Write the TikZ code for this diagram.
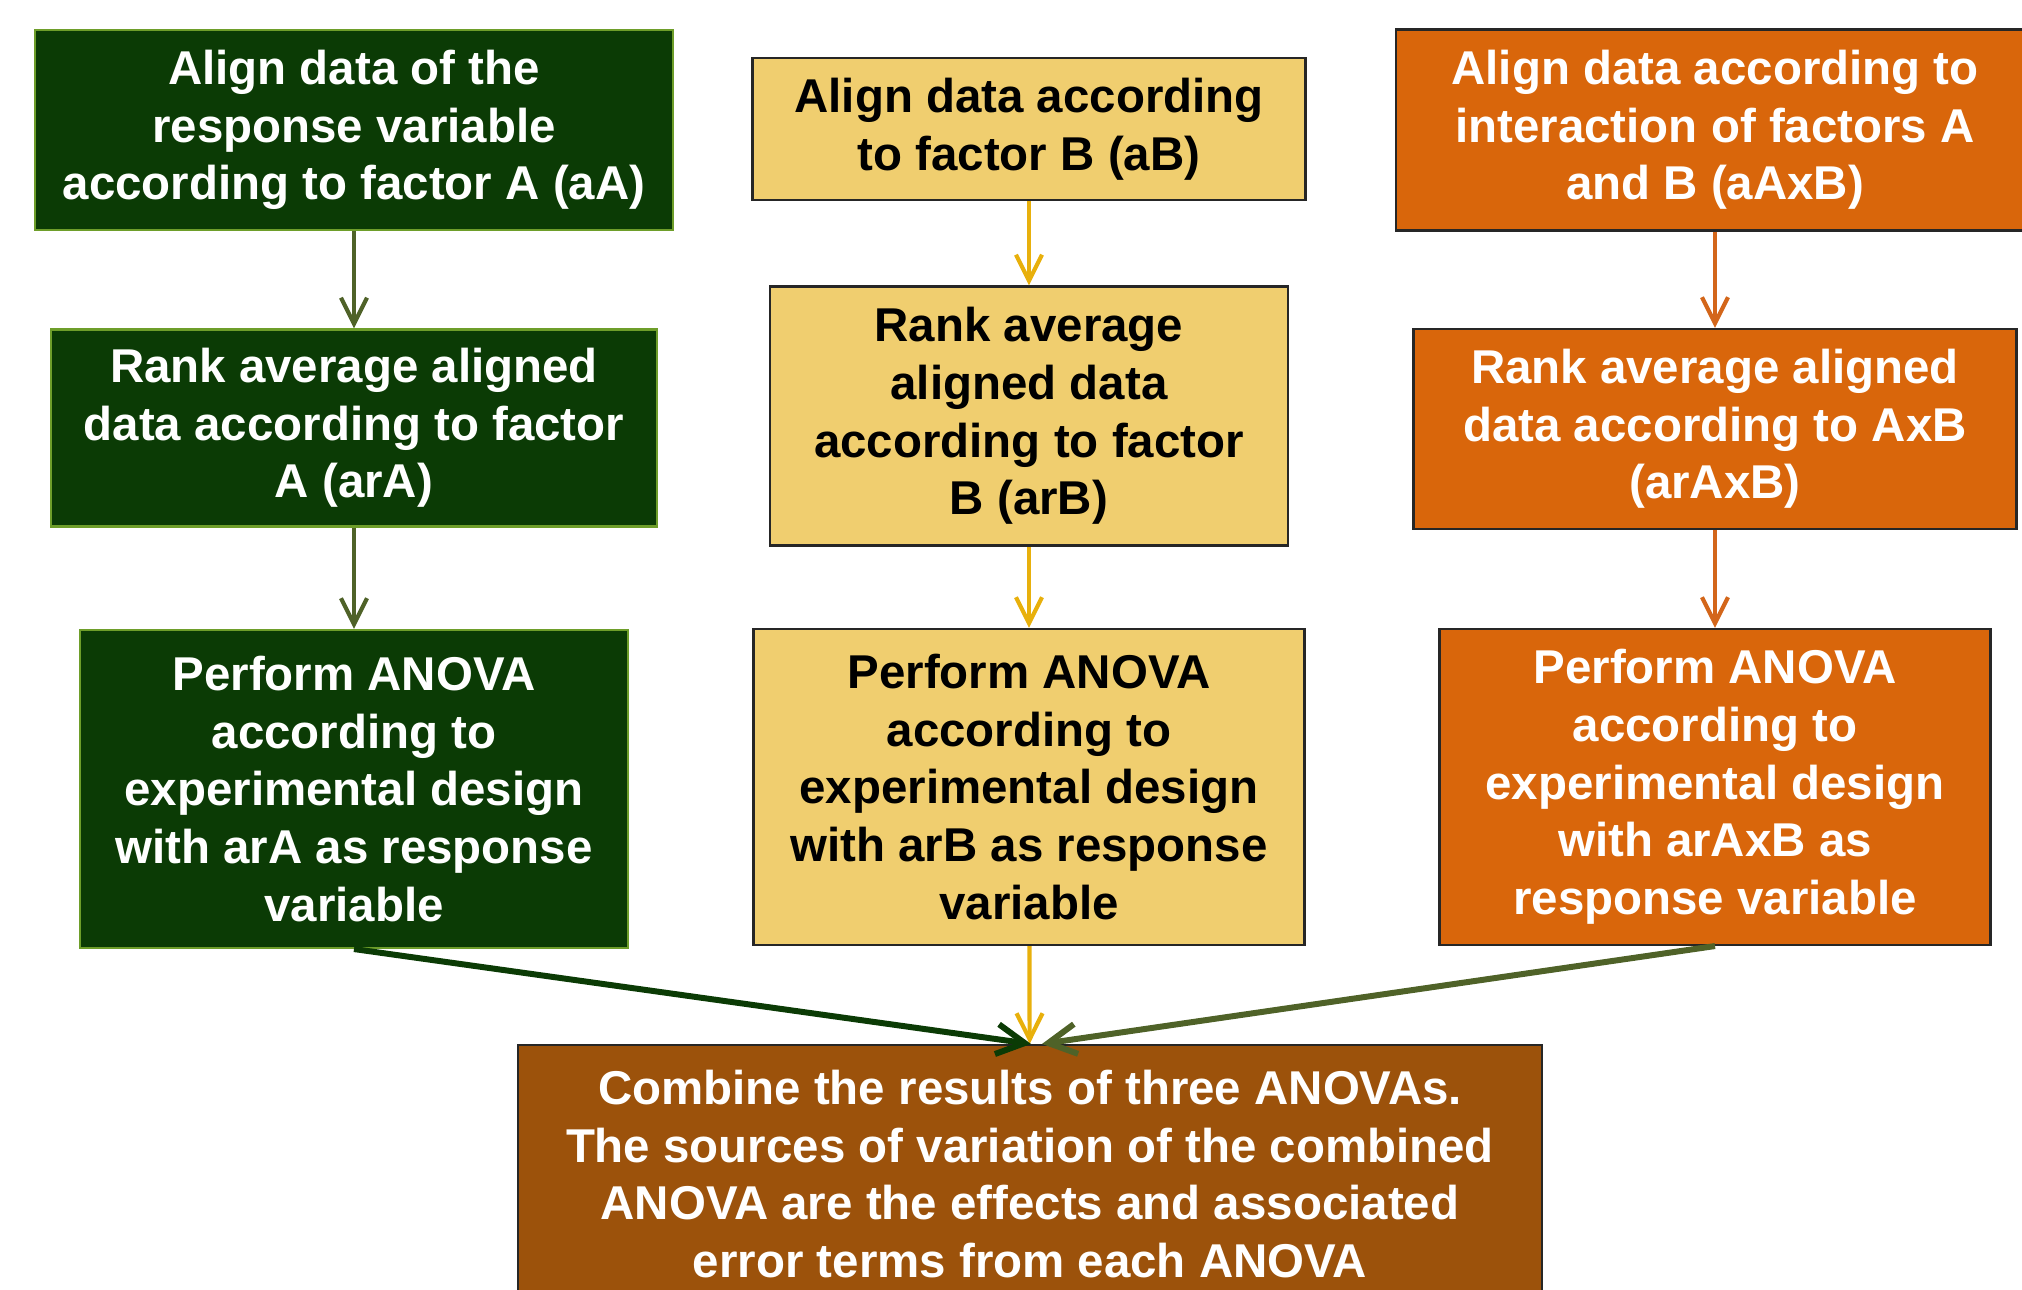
\documentclass[tikz,border=0pt]{standalone}
\usepackage{fontspec}
\setmainfont{Liberation Sans}
\usepackage{tikz}
\usetikzlibrary{arrows.meta}

\definecolor{grnfill}{HTML}{0B3B05}
\definecolor{grnline}{HTML}{6E9E2A}
\definecolor{olive}{HTML}{4F6228}
\definecolor{yelfill}{HTML}{F0CE6F}
\definecolor{yelline}{HTML}{E8B00C}
\definecolor{orafill}{HTML}{D9660B}
\definecolor{oraline}{HTML}{D3661A}
\definecolor{brnfill}{HTML}{9C520B}

\begin{document}
\begin{tikzpicture}[
  >={Straight Barb[length=2.6mm,width=2.6mm]},
  box/.style={rectangle,draw,line width=0.6pt,align=center,inner sep=0pt,
    font=\fontsize{13.5}{16.4}\selectfont\bfseries},
  abox/.style={box,fill=grnfill,draw=grnline,text=white},
  bbox/.style={box,fill=yelfill,draw=black!85,text=black},
  cbox/.style={box,fill=orafill,draw=black!85,text=white},
  dbox/.style={box,fill=brnfill,draw=black!85,text=white},
  flow/.style={->,line width=1.2pt},
  merge/.style={-{Straight Barb[length=2.8mm,width=3.0mm]},line width=1.7pt}
]
\path[use as bounding box,clip] (0,0) rectangle (20.22,-12.90);

% column A
\node[abox,minimum width=6.38cm,minimum height=2.00cm] (aA) at (3.54,-1.30)
  {Align data of the\\response variable\\according to factor A (aA)};
\node[abox,minimum width=6.06cm,minimum height=1.97cm] (arA) at (3.54,-4.28)
  {Rank average aligned\\data according to factor\\A (arA)};
\node[abox,minimum width=5.48cm,minimum height=3.18cm] (anA) at (3.54,-7.89)
  {Perform ANOVA\\according to\\experimental design\\with arA as response\\variable};

% column B
\node[bbox,minimum width=5.53cm,minimum height=1.42cm] (aB) at (10.29,-1.29)
  {Align data according\\to factor B (aB)};
\node[bbox,minimum width=5.18cm,minimum height=2.59cm] (arB) at (10.29,-4.16)
  {Rank average\\aligned data\\according to factor\\B (arB)};
\node[bbox,minimum width=5.51cm,minimum height=3.16cm] (anB) at (10.29,-7.87)
  {Perform ANOVA\\according to\\experimental design\\with arB as response\\variable};

% column AxB
\node[cbox,minimum width=6.38cm,minimum height=2.01cm] (aAxB) at (17.15,-1.30)
  {Align data according to\\interaction of factors A\\and B (aAxB)};
\node[cbox,minimum width=6.03cm,minimum height=2.00cm] (arAxB) at (17.15,-4.29)
  {Rank average aligned\\data according to AxB\\(arAxB)};
\node[cbox,minimum width=5.51cm,minimum height=3.16cm] (anAxB) at (17.15,-7.87)
  {Perform ANOVA\\according to\\experimental design\\with arAxB as\\response variable};

% combined result
\node[dbox,minimum width=10.24cm,minimum height=2.58cm] (comb) at (10.30,-11.74)
  {Combine the results of three ANOVAs.\\The sources of variation of the combined\\ANOVA are the effects and associated\\error terms from each ANOVA};

\draw[flow,olive] (aA) -- (arA);
\draw[flow,olive] (arA) -- (anA);
\draw[flow,yelline] (aB) -- (arB);
\draw[flow,yelline] (arB) -- (anB);
\draw[flow,yelline] (anB) -- (comb);
\draw[flow,oraline] (aAxB) -- (arAxB);
\draw[flow,oraline] (arAxB) -- (anAxB);
\draw[merge,grnfill] (anA.south) -- ([xshift=0.01cm]comb.north);
\draw[merge,olive] (anAxB.south) -- ([xshift=0.12cm]comb.north);
\end{tikzpicture}
\end{document}
